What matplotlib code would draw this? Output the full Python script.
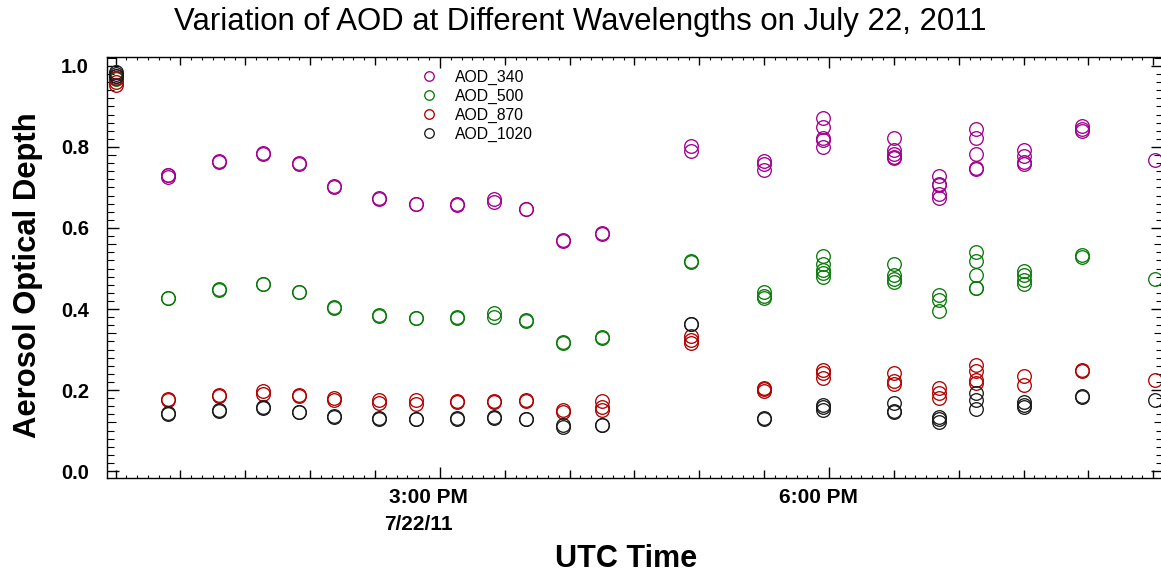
import matplotlib
matplotlib.use("Agg")
import matplotlib.pyplot as plt
import matplotlib.transforms as mtransforms
import pandas as pd

plt.rcParams['font.family'] = ['Liberation Sans', 'DejaVu Sans']

DATE = "2011-07-22"
TITLE = "Variation of AOD at Different Wavelengths on July 22, 2011"

# cluster times (UTC)
times = ["12:30", "12:54", "13:18", "13:38", "13:55", "14:11", "14:32", "14:49",
         "15:08", "15:25", "15:40", "15:57", "16:15", "16:56", "17:30", "17:57",
         "18:30", "18:51", "19:08", "19:30", "19:57", "20:31"]

aod_340 = [[0.975, 0.97], [0.730, 0.727, 0.732], [0.763, 0.765], [0.783, 0.786],
           [0.759, 0.761], [0.701, 0.703], [0.671, 0.673], [0.658, 0.660],
           [0.657, 0.659], [0.672, 0.663], [0.646, 0.648], [0.571, 0.567],
           [0.586, 0.588], [0.802, 0.790], [0.765, 0.759, 0.744],
           [0.872, 0.849, 0.821, 0.818, 0.800], [0.821, 0.792, 0.782, 0.775, 0.772],
           [0.728, 0.709, 0.706, 0.685, 0.673], [0.844, 0.823, 0.782, 0.746, 0.748],
           [0.792, 0.777, 0.763, 0.759], [0.851, 0.845, 0.840], [0.767]]

aod_500 = [[0.97, 0.968], [0.426, 0.428], [0.447, 0.449], [0.461, 0.463],
           [0.441, 0.443], [0.403, 0.405], [0.383, 0.386], [0.377, 0.379],
           [0.379, 0.381], [0.391, 0.381], [0.371, 0.373], [0.318, 0.315],
           [0.332, 0.328], [0.519, 0.516], [0.441, 0.433, 0.426],
           [0.530, 0.512, 0.497, 0.490, 0.480], [0.512, 0.484, 0.474, 0.466],
           [0.435, 0.422, 0.395], [0.541, 0.519, 0.484, 0.451, 0.453],
           [0.494, 0.484, 0.472, 0.463], [0.533, 0.528], [0.474]]

aod_870 = [[0.970, 0.960, 0.953], [0.175, 0.177], [0.186, 0.188], [0.198, 0.190],
           [0.186, 0.188], [0.181, 0.175], [0.175, 0.167], [0.175, 0.165],
           [0.171, 0.173], [0.173, 0.170], [0.173, 0.176], [0.150, 0.146],
           [0.173, 0.159, 0.151], [0.333, 0.323, 0.315], [0.206, 0.198, 0.202],
           [0.249, 0.241, 0.230], [0.241, 0.222, 0.214], [0.206, 0.194, 0.180],
           [0.263, 0.247, 0.225, 0.217], [0.235, 0.212], [0.250, 0.247], [0.225]]

aod_1020 = [[0.985, 0.980, 0.975], [0.142, 0.144], [0.148, 0.150], [0.155, 0.158],
            [0.145, 0.147], [0.134, 0.136], [0.128, 0.130], [0.128, 0.129],
            [0.128, 0.130], [0.132, 0.134], [0.128, 0.129], [0.115, 0.109],
            [0.114, 0.115], [0.362, 0.364], [0.130, 0.128],
            [0.163, 0.157, 0.151], [0.167, 0.146, 0.148], [0.134, 0.128, 0.122],
            [0.194, 0.175, 0.153], [0.170, 0.164, 0.159], [0.183, 0.185], [0.175]]

series_names = ["AOD_340", "AOD_500", "AOD_870", "AOD_1020"]
series_values = [aod_340, aod_500, aod_870, aod_1020]
series_colors = ["#A0008E", "#0A7A0A", "#B00000", "#1A1A1A"]

W, H = 1161, 573
fig = plt.figure(figsize=(W / 100, H / 100), dpi=100)
ax_l, ax_r, ax_t, ax_b = 107, 1163, 57, 478
ax = fig.add_axes([ax_l / W, 1 - ax_b / H, (ax_r - ax_l) / W, (ax_b - ax_t) / H])

for name, vals, col in zip(series_names, series_values, series_colors):
    xs, ys = [], []
    for t, v in zip(times, vals):
        xs.extend([pd.Timestamp(f"{DATE} {t}")] * len(v))
        ys.extend(v)
    ax.plot(xs, ys, linestyle="none", marker="o", ms=9.8, mfc="none",
            mec=col, mew=0.95, label=name)

ax.set_xlim(pd.Timestamp(f"{DATE} 12:26:00"), pd.Timestamp(f"{DATE} 20:34:30"))
ax.set_ylim(-0.017, 1.022)

# x ticks
major = pd.date_range(f"{DATE} 12:30", f"{DATE} 20:30", freq="30min")
minor = pd.date_range(f"{DATE} 12:30", f"{DATE} 20:30", freq="5min")
labels = []
for m in major:
    if m.hour == 15 and m.minute == 0:
        labels.append("3:00 PM")
    elif m.hour == 18 and m.minute == 0:
        labels.append("6:00 PM")
    else:
        labels.append("")
ax.set_xticks(major)
ax.set_xticklabels(labels)
ax.set_xticks(minor, minor=True)
ax.tick_params(axis="x", which="major", direction="in", length=5.8, width=1,
               top=True, bottom=True, pad=7.5, labelsize=15)
ax.tick_params(axis="x", which="minor", direction="in", length=2.5, width=0.8,
               top=True, bottom=True)
for tk, m in zip(ax.xaxis.get_major_ticks(), major):
    if m.minute == 0 and m.hour in (15, 18):
        tk.tick1line.set_markersize(8)
        tk.tick2line.set_markersize(8)
off = mtransforms.ScaledTranslation(-0.11, 0, fig.dpi_scale_trans)
for lab in ax.get_xticklabels():
    lab.set_fontweight("bold")
    lab.set_transform(lab.get_transform() + off)

date_tick = pd.Timestamp(f"{DATE} 15:00")
trans = ax.get_xaxis_transform() + mtransforms.ScaledTranslation(-0.21, 0, fig.dpi_scale_trans)
ax.text(date_tick, (ax_b - 524) / (ax_b - ax_t), "7/22/11", transform=trans,
        ha="center", va="center", fontsize=15, fontweight="bold")

# y ticks
yticks = [0.0, 0.2, 0.4, 0.6, 0.8, 1.0]
yminor = [round(i * 0.02, 2) for i in range(0, 52)]
ax.set_yticks(yticks)
ax.set_yticklabels([f"{v:.1f}" for v in yticks])
ax.set_yticks(yminor, minor=True)
ax.tick_params(axis="y", which="major", direction="in", length=8.6, width=1,
               left=True, right=True, pad=13, labelsize=14.5)
ax.tick_params(axis="y", which="minor", direction="in", length=5, width=0.8,
               left=True, right=True)
for tk, v in zip(ax.yaxis.get_minor_ticks(), yminor):
    if abs(v * 10 - round(v * 10)) < 1e-6 and round(v * 10) % 2 == 1:
        tk.tick1line.set_markersize(6.5)
        tk.tick2line.set_markersize(6.5)
for lab in ax.get_yticklabels():
    lab.set_fontweight("bold")

for sp in ax.spines.values():
    sp.set_linewidth(1.0)

leg = ax.legend(loc="upper left", bbox_to_anchor=(421 / W, 1 - 69.5 / H),
                bbox_transform=fig.transFigure, frameon=False, fontsize=11.3,
                markerscale=0.7, handlelength=1.05, handletextpad=1.1,
                labelspacing=0.25, borderpad=0, borderaxespad=0)

fig.text(0.5, 1 - 22 / H, TITLE, ha="center", va="center", fontsize=22.4)
fig.text(626 / W, 1 - 559 / H, "UTC Time", ha="center", va="center",
         fontsize=22, fontweight="bold")
fig.text(28 / W, 1 - 275 / H, "Aerosol Optical Depth", ha="center", va="center",
         rotation=90, fontsize=22.3, fontweight="bold")

fig.savefig("out.png", dpi=100)
